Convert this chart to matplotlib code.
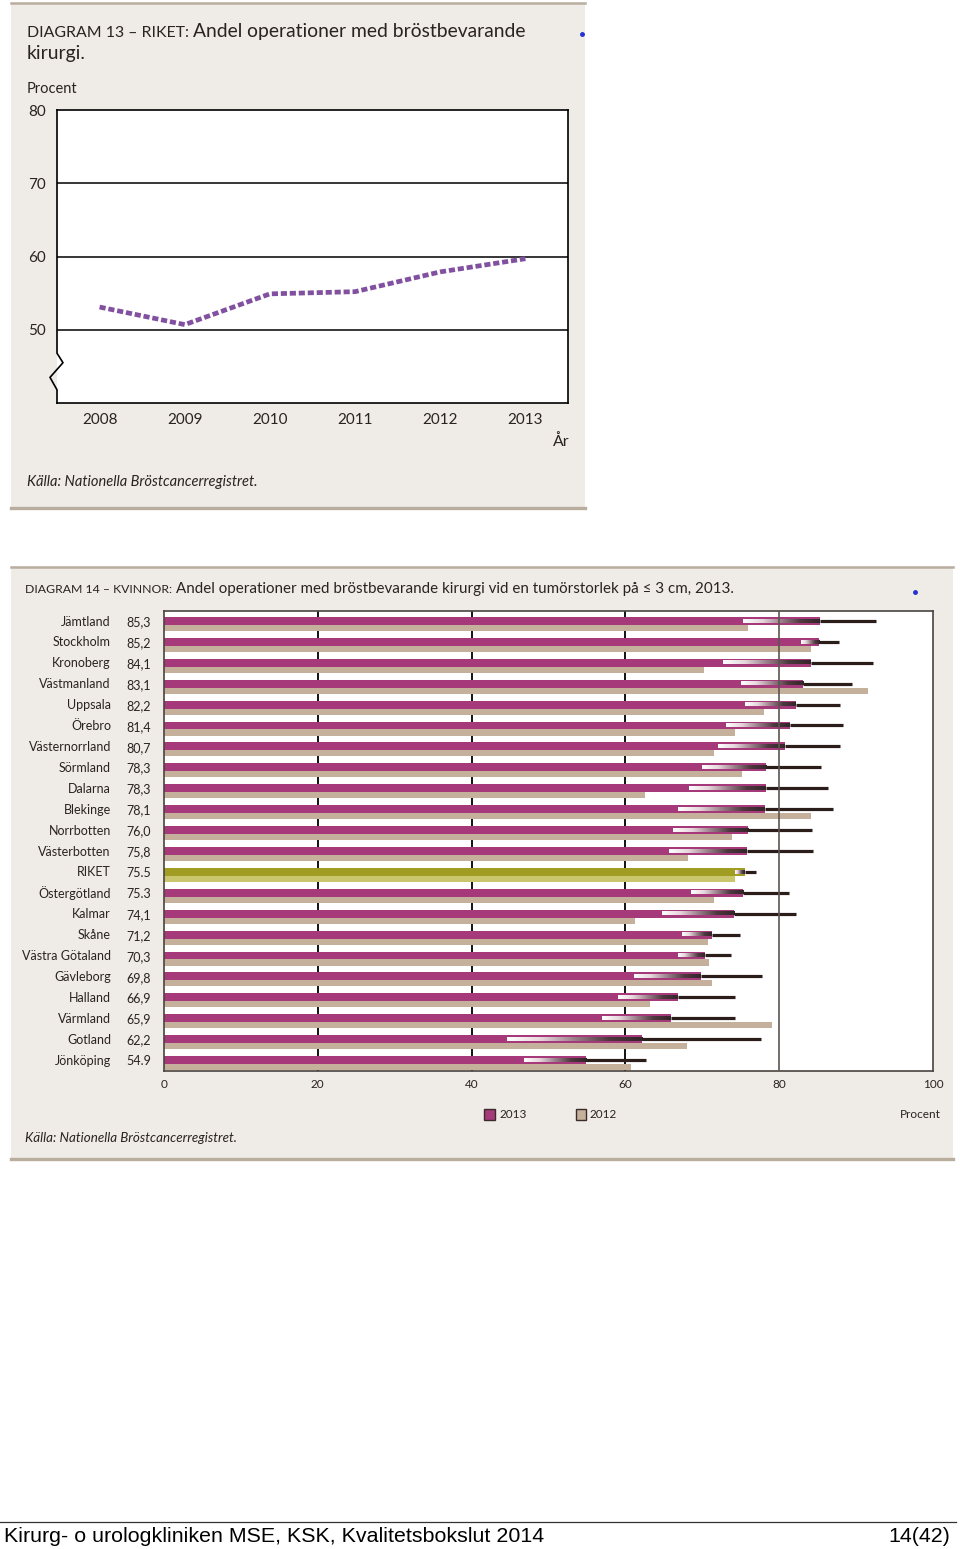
import numpy as np
import matplotlib
matplotlib.use("Agg")
import matplotlib.pyplot as plt
from matplotlib.patches import Rectangle
from matplotlib.lines import Line2D
from matplotlib.colors import LinearSegmentedColormap

# ---------------- data ----------------
years = [2008, 2009, 2010, 2011, 2012, 2013]
riket_pct = [53.1, 50.7, 54.9, 55.2, 57.9, 59.7]
top_yticks = [50, 60, 70, 80]

regions = ["Jämtland", "Stockholm", "Kronoberg", "Västmanland", "Uppsala", "Örebro",
           "Västernorrland", "Sörmland", "Dalarna", "Blekinge", "Norrbotten",
           "Västerbotten", "RIKET", "Östergötland", "Kalmar", "Skåne",
           "Västra Götaland", "Gävleborg", "Halland", "Värmland", "Gotland", "Jönköping"]
labels_2013 = ["85,3", "85,2", "84,1", "83,1", "82,2", "81,4", "80,7", "78,3", "78,3",
               "78,1", "76,0", "75,8", "75.5", "75.3", "74,1", "71,2", "70,3", "69,8",
               "66,9", "65,9", "62,2", "54.9"]
val_2013 = [85.3, 85.2, 84.1, 83.1, 82.2, 81.4, 80.7, 78.3, 78.3, 78.1, 76.0, 75.8,
            75.5, 75.3, 74.1, 71.2, 70.3, 69.8, 66.9, 65.9, 62.2, 54.9]
val_2012 = [75.9, 84.1, 70.2, 91.6, 78.0, 74.2, 71.5, 75.2, 62.5, 84.1, 73.9, 68.2,
            74.3, 71.5, 61.2, 70.7, 70.9, 71.3, 63.2, 79.0, 68.0, 60.7]
ci_low = [75.3, 82.8, 72.7, 75.0, 75.6, 73.1, 72.0, 69.9, 68.3, 66.9, 66.2, 65.7,
          74.2, 68.5, 64.7, 67.4, 66.9, 61.1, 59.1, 57.0, 44.6, 46.8]
ci_high = [92.6, 87.8, 92.2, 89.5, 87.9, 88.3, 87.9, 85.4, 86.4, 87.0, 84.3, 84.4,
           77.0, 81.3, 82.2, 74.9, 73.7, 77.8, 74.2, 74.3, 77.6, 62.7]
bottom_xticks = [0, 20, 40, 60, 80, 100]

# ---------------- style ----------------
BG = "#efebe6"
BORDER = "#b9ad9e"
MAG = "#a6397a"
TAN = "#c4b09b"
OLIVE = "#a19d22"
OLIVE_L = "#cac66e"
PURPLE = "#8250a0"
DARK = "#2b1d1a"
FONT = ["Lato", "DejaVu Sans"]
plt.rcParams["font.family"] = FONT
TXT = "#2a2320"

W, H = 960, 1549
fig = plt.figure(figsize=(9.6, 15.49), dpi=100)
fig.patch.set_facecolor("white")


def fx(px):
    return px / W


def fy(py):
    return 1 - py / H


def panel(x0, y0, x1, y1):
    fig.patches.append(Rectangle((fx(x0), fy(y1)), fx(x1) - fx(x0), fy(y0) - fy(y1),
                                 transform=fig.transFigure, facecolor=BG,
                                 edgecolor="none", zorder=-10))
    fig.add_artist(Line2D([fx(x0), fx(x1)], [fy(y0), fy(y0)], color=BORDER, lw=1.8,
                          zorder=-9))
    fig.add_artist(Line2D([fx(x0), fx(x1)], [fy(y1), fy(y1)], color=BORDER, lw=2.4,
                          zorder=-9))


panel(11, 3, 585, 508)
panel(11, 567, 953, 1159)


def two_part_title(x, y, small, big, s_small, s_big):
    t1 = fig.text(fx(x), fy(y), small, fontsize=s_small, color=TXT, va="baseline", ha="left")
    fig.canvas.draw()
    bb = t1.get_window_extent()
    fig.text(bb.x1 / W + 4 / W, fy(y), big, fontsize=s_big, color=TXT, va="baseline", ha="left")


# ---------------- top chart ----------------
two_part_title(27, 37, "DIAGRAM 13 – RIKET:", "Andel operationer med bröstbevarande", 11.4, 13.9)
fig.text(fx(27), fy(59), "kirurgi.", fontsize=13.9, color=TXT, va="baseline", ha="left")
fig.text(fx(27), fy(89), "Procent", fontsize=10.5, color=TXT, va="center", ha="left")
fig.add_artist(Line2D([fx(582)], [fy(34)], marker="o", ms=2.5, color="#2233cc", lw=0))

ax1 = fig.add_axes([fx(57), fy(403), fx(568) - fx(57), fy(110) - fy(403)])
ax1.set_facecolor("white")
ax1.set_xlim(2007.5, 2013.5)
ax1.set_ylim(40, 80)
for yv in top_yticks[:-1]:
    ax1.axhline(yv, color="black", lw=1.1, zorder=1)
ax1.plot(years, riket_pct, color=PURPLE, lw=3.4, dashes=(1.3, 0.6),
         dash_capstyle="butt", zorder=3)
for s in ["top", "right", "bottom"]:
    ax1.spines[s].set_color("black")
    ax1.spines[s].set_linewidth(1.2)
ax1.spines["left"].set_visible(False)
tr = ax1.get_yaxis_transform()
ax1.plot([0, 0, 0.0117, -0.0137, 0, 0], [80, 46.8, 45.5, 43.5, 41.8, 40],
         color="black", lw=1.2, transform=tr, clip_on=False, zorder=5)
ax1.set_yticks(top_yticks)
ax1.set_yticklabels([str(v) for v in top_yticks], fontsize=11, color=TXT)
ax1.set_xticks(years)
ax1.set_xticklabels([str(v) for v in years], fontsize=11, color=TXT)
ax1.tick_params(axis="y", length=0, pad=8)
ax1.tick_params(axis="x", length=0, pad=7)
fig.text(fx(570), fy(442), "År", fontsize=11.5, color=TXT, va="center", ha="right")
fig.text(fx(27), fy(482), "Källa: Nationella Bröstcancerregistret.", fontsize=10.5,
         color=TXT, style="italic", va="center", ha="left")

# ---------------- bottom chart ----------------
two_part_title(25, 593, "DIAGRAM 14 – KVINNOR:",
               "Andel operationer med bröstbevarande kirurgi vid en tumörstorlek på ≤ 3 cm, 2013.",
               8.8, 10.9)
fig.add_artist(Line2D([fx(915)], [fy(592)], marker="o", ms=2.5, color="#2233cc", lw=0))

ax2 = fig.add_axes([fx(164), fy(1071), fx(933) - fx(164), fy(611) - fy(1071)])
ax2.set_facecolor("white")
n = len(regions)
idx = np.arange(n)
c13 = [OLIVE if r == "RIKET" else MAG for r in regions]
c12 = [OLIVE_L if r == "RIKET" else TAN for r in regions]

for xv in bottom_xticks[1:4]:
    ax2.axvline(xv, color="black", lw=1.3, zorder=1)
ax2.axvline(80, color="#5b5550", lw=1.2, zorder=6)

y13 = idx - 0.024
y12 = idx + 0.31
ax2.barh(y13, val_2013, height=0.38, color=c13, zorder=2)
ax2.barh(y12, val_2012, height=0.29, color=c12, zorder=2)

cmap = LinearSegmentedColormap.from_list(
    "ci", ["#ffffff", "#e6d6dc", "#9a7f8a", "#4d383e", "#33252a"])
grad = np.linspace(0, 1, 256).reshape(1, -1)
hh = 0.08
for i in range(n):
    y = y13[i]
    ax2.imshow(grad, extent=[ci_low[i], val_2013[i], y + hh, y - hh], cmap=cmap,
               aspect="auto", zorder=4, interpolation="bilinear")
    ax2.plot([val_2013[i], ci_high[i]], [y, y], color=DARK, lw=2.3,
             solid_capstyle="butt", zorder=4)

ax2.set_xlim(0, 100)
ax2.set_ylim(n - 0.5, -0.5)
ax2.set_yticks([])
ax2.set_xticks(bottom_xticks)
ax2.set_xticklabels([str(v) for v in bottom_xticks], fontsize=8.5, color=TXT)
ax2.tick_params(axis="x", length=0, pad=6)
for s in ax2.spines.values():
    s.set_color("#4a4440")
    s.set_linewidth(1.2)

ytr = ax2.get_yaxis_transform()
for i in range(n):
    ax2.text(-0.069, y13[i] + 0.03, regions[i], transform=ytr, ha="right", va="center",
             fontsize=9, color=TXT)
    ax2.text(-0.0495, y13[i] + 0.06, labels_2013[i], transform=ytr, ha="left", va="center",
             fontsize=9, color=TXT)

# legend
fig.patches.append(Rectangle((fx(484), fy(1120)), fx(495) - fx(484), fy(1109) - fy(1120),
                             transform=fig.transFigure, facecolor=MAG, edgecolor="#3a2a2a",
                             lw=1.0, zorder=3))
fig.text(fx(499), fy(1115), "2013", fontsize=8.5, color=TXT, va="center", ha="left")
fig.patches.append(Rectangle((fx(576), fy(1120)), fx(586) - fx(576), fy(1109) - fy(1120),
                             transform=fig.transFigure, facecolor=TAN, edgecolor="#3a2a2a",
                             lw=1.0, zorder=3))
fig.text(fx(590), fy(1115), "2012", fontsize=8.5, color=TXT, va="center", ha="left")
fig.text(fx(941), fy(1114), "Procent", fontsize=8.5, color=TXT, va="center", ha="right")
fig.text(fx(25), fy(1138), "Källa: Nationella Bröstcancerregistret.", fontsize=9.6,
         color=TXT, style="italic", va="center", ha="left")

# footer
fig.add_artist(Line2D([0, fx(956)], [fy(1522), fy(1522)], color="#333333", lw=0.9))
fig.text(fx(4), fy(1537), "Kirurg- o urologkliniken MSE, KSK, Kvalitetsbokslut 2014",
         fontsize=15.4, family=["Liberation Sans", "DejaVu Sans"], color="black",
         va="center", ha="left")
fig.text(fx(950), fy(1537), "14(42)", fontsize=15.4, family=["Liberation Sans", "DejaVu Sans"],
         color="black", va="center", ha="right")

fig.savefig("out.png", dpi=100, facecolor="white")
